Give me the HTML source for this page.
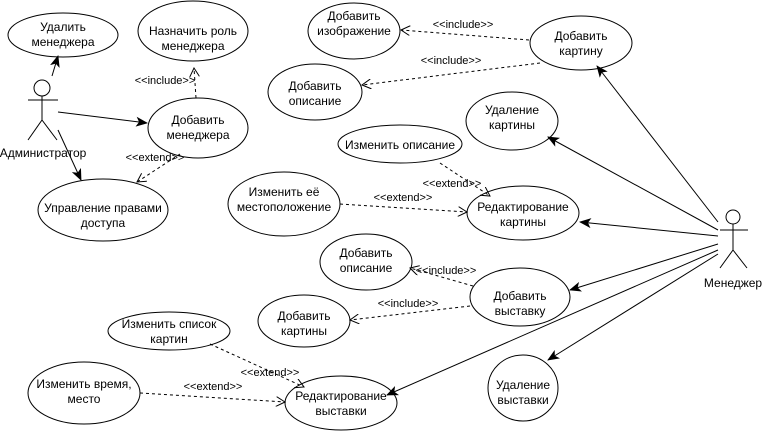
<!DOCTYPE html>
<html><head><meta charset="utf-8"><style>
body{margin:0;background:#fff}
svg{display:block;font-family:"Liberation Sans",sans-serif;font-size:12px}
</style></head><body>
<svg width="763" height="431" viewBox="0 0 763 431">
<defs>
<marker id="f" markerWidth="12" markerHeight="10" refX="11" refY="5" orient="auto" markerUnits="userSpaceOnUse"><path d="M0,0 L12,5 L0,10 L3,5 Z" fill="#000"/></marker>
<marker id="o" markerWidth="10" markerHeight="10" refX="9" refY="5" orient="auto" markerUnits="userSpaceOnUse"><path d="M0,0 L9,5 L0,10" fill="none" stroke="#000"/></marker>
</defs>
<g fill="#fff" stroke="#000" stroke-width="1">
<ellipse cx="63" cy="35" rx="55" ry="22"/>
<ellipse cx="193" cy="31" rx="55" ry="30"/>
<ellipse cx="198" cy="128" rx="50" ry="30"/>
<ellipse cx="103" cy="210" rx="65" ry="31"/>
<ellipse cx="354" cy="31" rx="46" ry="28"/>
<ellipse cx="581" cy="43" rx="51" ry="27"/>
<ellipse cx="315" cy="92" rx="47" ry="28"/>
<ellipse cx="512" cy="121" rx="46" ry="29"/>
<ellipse cx="400" cy="144" rx="62" ry="19"/>
<ellipse cx="284" cy="204" rx="56" ry="32"/>
<ellipse cx="523" cy="213" rx="56" ry="27"/>
<ellipse cx="366" cy="262" rx="46" ry="28"/>
<ellipse cx="520" cy="297" rx="50" ry="29"/>
<ellipse cx="304" cy="321" rx="46" ry="26"/>
<ellipse cx="169" cy="331" rx="61" ry="19"/>
<ellipse cx="84" cy="393" rx="56" ry="31"/>
<ellipse cx="341" cy="403" rx="56" ry="27"/>
<ellipse cx="523" cy="388" rx="35" ry="33"/>
</g>
<g stroke="#000" fill="none">
<circle cx="42" cy="88" r="8"/><path d="M42,96V120M28,100H58M42,120L28,140M42,120L57,140"/>
<circle cx="733" cy="217" r="7"/><path d="M733,224V250M720,230H748M733,250L720,268M733,250L747,268"/>
</g>
<g stroke="#000" marker-end="url(#f)">
<line x1="52" y1="76" x2="58" y2="56"/>
<line x1="58" y1="112" x2="147" y2="123"/>
<line x1="58" y1="130" x2="81" y2="180"/>
<line x1="718" y1="222" x2="597" y2="66"/>
<line x1="718" y1="230" x2="548" y2="137"/>
<line x1="718" y1="236" x2="580" y2="222"/>
<line x1="718" y1="244" x2="570" y2="290"/>
<line x1="718" y1="250" x2="387" y2="395"/>
<line x1="718" y1="254" x2="548" y2="360"/>
</g>
<g stroke="#000" stroke-dasharray="3,3" marker-end="url(#o)">
<line x1="196" y1="98" x2="194" y2="68"/>
<line x1="180" y1="154" x2="137" y2="182"/>
<line x1="529" y1="40" x2="401" y2="30"/>
<line x1="540" y1="63" x2="362" y2="85"/>
<line x1="440" y1="163" x2="490" y2="196"/>
<line x1="340" y1="204" x2="467" y2="212"/>
<line x1="473" y1="286" x2="410" y2="268"/>
<line x1="470" y1="306" x2="350" y2="320"/>
<line x1="210" y1="344" x2="304" y2="387"/>
<line x1="140" y1="393" x2="285" y2="402"/>
</g>
<g text-anchor="middle" fill="#000">
<text x="63" y="31">Удалить</text><text x="63" y="46">менеджера</text>
<text x="193" y="35">Назначить роль</text><text x="193" y="50">менеджера</text>
<text x="198" y="124">Добавить</text><text x="198" y="139">менеджера</text>
<text x="103" y="212">Управление правами</text><text x="103" y="227">доступа</text>
<text x="354" y="20">Добавить</text><text x="354" y="35">изображение</text>
<text x="581" y="40">Добавить</text><text x="581" y="55">картину</text>
<text x="315" y="90">Добавить</text><text x="315" y="105">описание</text>
<text x="512" y="114">Удаление</text><text x="512" y="129">картины</text>
<text x="400" y="149">Изменить описание</text>
<text x="284" y="196">Изменить её</text><text x="284" y="211">местоположение</text>
<text x="523" y="211">Редактирование</text><text x="523" y="226">картины</text>
<text x="366" y="257">Добавить</text><text x="366" y="272">описание</text>
<text x="520" y="300">Добавить</text><text x="520" y="315">выставку</text>
<text x="304" y="320">Добавить</text><text x="304" y="335">картины</text>
<text x="169" y="328">Изменить список</text><text x="169" y="343">картин</text>
<text x="84" y="388">Изменить время,</text><text x="84" y="403">место</text>
<text x="341" y="400">Редактирование</text><text x="341" y="415">выставки</text>
<text x="523" y="389">Удаление</text><text x="523" y="404">выставки</text>
<text x="43" y="157">Администратор</text>
<text x="733" y="287">Менеджер</text>
</g>
<g text-anchor="middle" fill="#000" font-size="11">
<text x="165" y="84">&lt;&lt;include&gt;&gt;</text>
<text x="155" y="161">&lt;&lt;extend&gt;&gt;</text>
<text x="463" y="28">&lt;&lt;include&gt;&gt;</text>
<text x="451" y="64">&lt;&lt;include&gt;&gt;</text>
<text x="452" y="187">&lt;&lt;extend&gt;&gt;</text>
<text x="403" y="201">&lt;&lt;extend&gt;&gt;</text>
<text x="446" y="274">&lt;&lt;include&gt;&gt;</text>
<text x="408" y="307">&lt;&lt;include&gt;&gt;</text>
<text x="270" y="376">&lt;&lt;extend&gt;&gt;</text>
<text x="213" y="390">&lt;&lt;extend&gt;&gt;</text>
</g>
</svg>
</body></html>
